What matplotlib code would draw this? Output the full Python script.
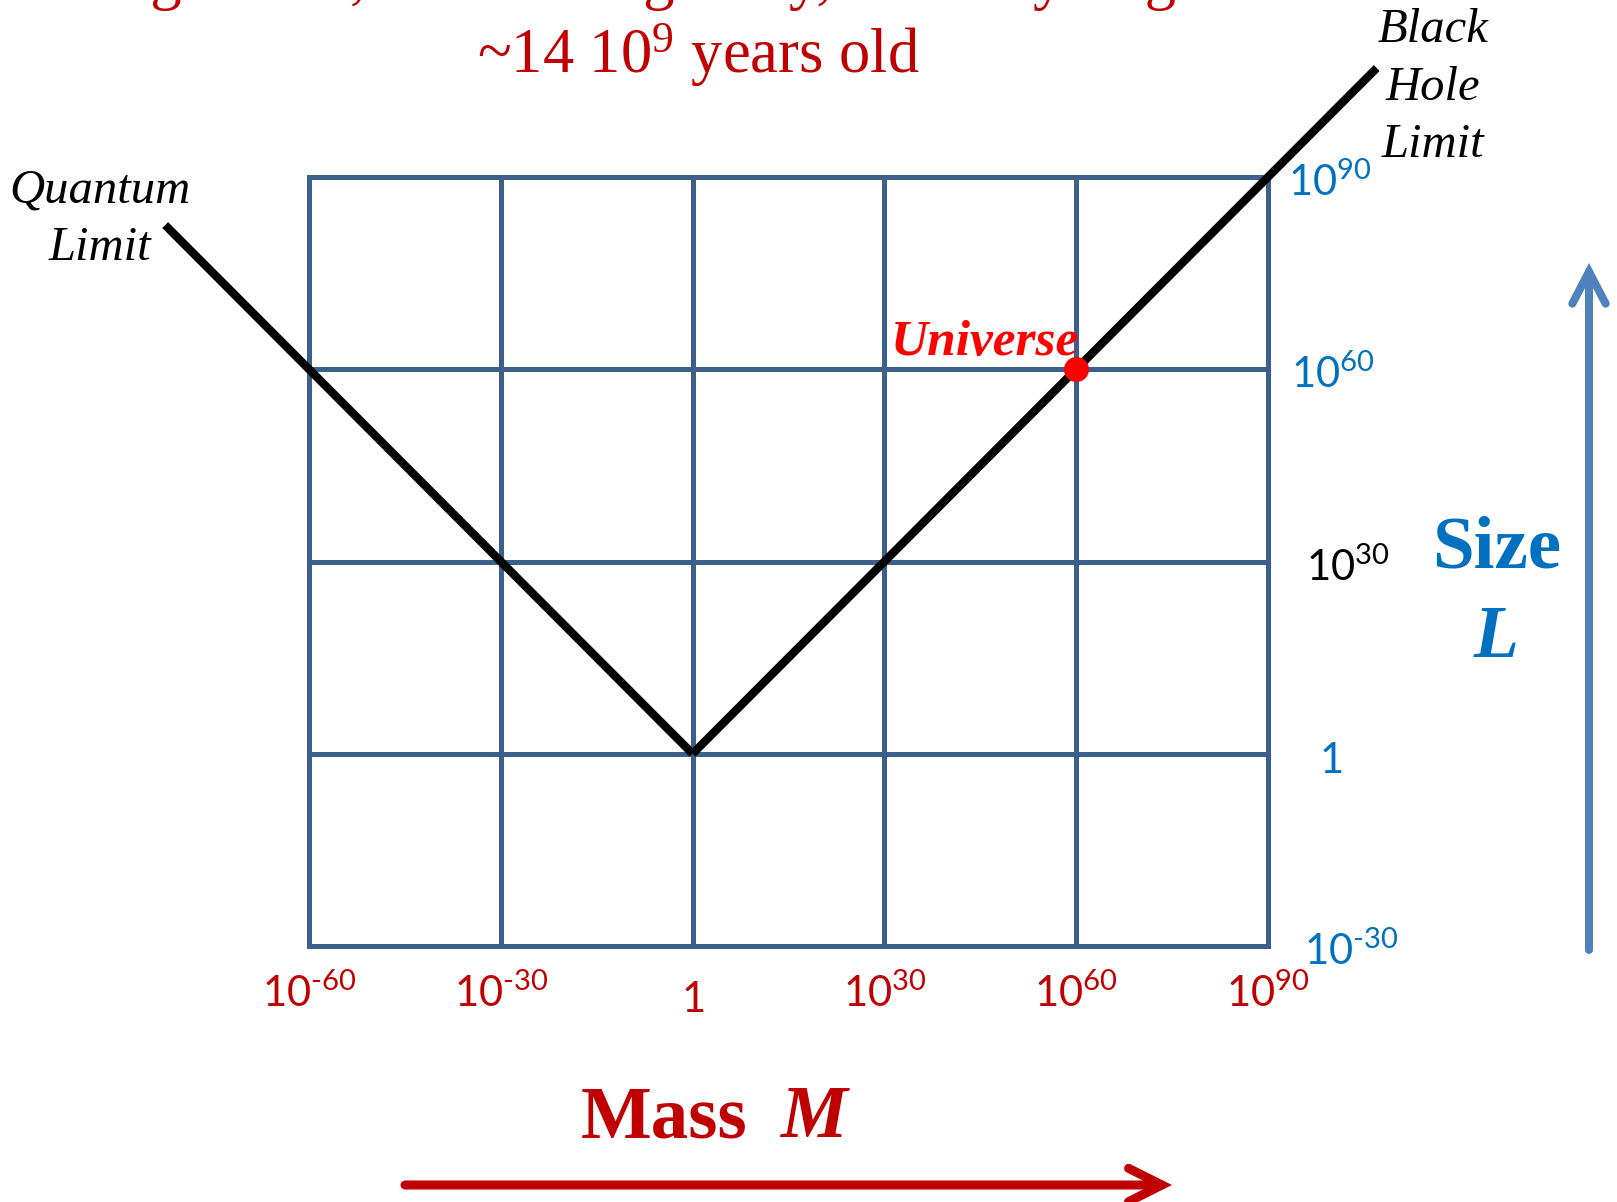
import matplotlib
matplotlib.use('Agg')
import matplotlib.pyplot as plt
from matplotlib.patches import FancyArrowPatch

# log10 of mass / size at the grid lines
mass_ticks = [-60, -30, 0, 30, 60, 90]
size_ticks = [-30, 0, 30, 60, 90]
mass_labels = ['$\\mathsf{10^{\u201060}}$', '$\\mathsf{10^{\u201030}}$', r'$\mathsf{1}$',
               r'$\mathsf{10^{30}}$', r'$\mathsf{10^{60}}$', r'$\mathsf{10^{90}}$']
size_labels = ['$\\mathsf{10^{\u201030}}$', r'$\mathsf{1}$', r'$\mathsf{10^{30}}$',
               r'$\mathsf{10^{60}}$', r'$\mathsf{10^{90}}$']

# limit lines (log10 M, log10 L)
quantum_x = [-82.5, 0]
quantum_y = [82.5, 0]
blackhole_x = [0, 107]
blackhole_y = [0, 107]

universe_x = 60
universe_y = 60

W, H = 1617, 1202
RED = '#C00000'
BLUE = '#0070C0'
GRID = '#3D5F8C'
SERIF = 'Liberation Serif'


def fx(px):
    return px / W


def fy(py):
    return 1 - py / H


def main():
    plt.rcParams['mathtext.fontset'] = 'custom'
    plt.rcParams['mathtext.sf'] = 'Lato'
    plt.rcParams['mathtext.rm'] = SERIF

    fig = plt.figure(figsize=(W / 100, H / 100), dpi=100)
    ax = fig.add_axes([fx(309), fy(946), (1268 - 309) / W, (946 - 177) / H])
    ax.set_xlim(-60, 90)
    ax.set_ylim(-30, 90)
    ax.axis('off')

    for v in mass_ticks:
        ax.plot([v, v], [size_ticks[0], size_ticks[-1]], color=GRID, lw=3.6,
                solid_capstyle='projecting', clip_on=False, zorder=1)
    for v in size_ticks:
        ax.plot([mass_ticks[0], mass_ticks[-1]], [v, v], color=GRID, lw=3.6,
                solid_capstyle='projecting', clip_on=False, zorder=1)

    ax.plot(quantum_x, quantum_y, color='black', lw=6, solid_capstyle='butt',
            clip_on=False, zorder=3)
    ax.plot(blackhole_x, blackhole_y, color='black', lw=6, solid_capstyle='butt',
            clip_on=False, zorder=3)

    ax.plot(universe_x, universe_y, 'o', ms=18, color='#FF0000', mec='none',
            clip_on=False, zorder=4)
    ax.annotate('Universe', (universe_x, universe_y), xytext=(2, 10),
                textcoords='offset points', ha='right', va='baseline',
                fontsize=37, fontweight='bold', fontstyle='italic',
                family=SERIF, color='#FF0000', zorder=5)

    # mass labels under the grid
    for v, lab in zip(mass_ticks, mass_labels):
        dy = -47.5 if v == 0 else -44
        ax.annotate(lab, (v, size_ticks[0]), xytext=(0, dy), textcoords='offset points',
                    ha='center', va='baseline', fontsize=30, color=RED,
                    annotation_clip=False)

    # size labels right of the grid
    size_dx = [26, 45, 27, 16.5, 14.4]
    size_colors = [BLUE, BLUE, 'black', BLUE, BLUE]
    for v, lab, dx, c in zip(size_ticks, size_labels, size_dx, size_colors):
        ha = 'center' if v == 0 else 'left'
        ax.annotate(lab, (mass_ticks[-1], v), xytext=(dx, -13.7), textcoords='offset points',
                    ha=ha, va='baseline', fontsize=30, color=c, annotation_clip=False)

    # text around the chart
    fig.text(fx(74), fy(-2.6), 'Huge mass, enormous gravity, and very large',
             ha='left', va='baseline', fontsize=45, family=SERIF, color=RED)
    fig.text(fx(698), fy(73), r'~14 $\mathrm{10^9}$ years old',
             ha='center', va='baseline', fontsize=45, family=SERIF, color=RED)

    for word, py in zip(['Quantum', 'Limit'], [202, 260]):
        fig.text(fx(100), fy(py), word, ha='center', va='baseline', fontsize=35,
                 fontstyle='italic', family=SERIF)
    for word, py in zip(['Black', 'Hole', 'Limit'], [42, 100, 157]):
        fig.text(fx(1433), fy(py), word, ha='center', va='baseline', fontsize=35,
                 fontstyle='italic', family=SERIF)

    fig.text(fx(1497), fy(568), 'Size', ha='center', va='baseline', fontsize=54,
             fontweight='bold', family=SERIF, color=BLUE)
    fig.text(fx(1496), fy(657), 'L', ha='center', va='baseline', fontsize=53,
             fontweight='bold', fontstyle='italic', family=SERIF, color=BLUE)

    fig.text(fx(581), fy(1137), 'Mass', ha='left', va='baseline', fontsize=54,
             fontweight='bold', family=SERIF, color=RED)
    fig.text(fx(781), fy(1137), 'M', ha='left', va='baseline', fontsize=54,
             fontweight='bold', fontstyle='italic', family=SERIF, color=RED)

    # axis direction arrows
    fig.add_artist(FancyArrowPatch((fx(405), fy(1185)), (fx(1172), fy(1185)),
                                   transform=fig.transFigure,
                                   arrowstyle='->,head_length=24,head_width=12',
                                   lw=6.5, color=RED, shrinkA=0, shrinkB=0,
                                   capstyle='round', joinstyle='miter'))
    fig.add_artist(FancyArrowPatch((fx(1589), fy(950)), (fx(1589), fy(263)),
                                   transform=fig.transFigure,
                                   arrowstyle='->,head_length=23,head_width=12',
                                   lw=5.8, color='#4F81BD', shrinkA=0, shrinkB=0,
                                   capstyle='round', joinstyle='miter'))

    fig.savefig('out.png', dpi=100)


main()
